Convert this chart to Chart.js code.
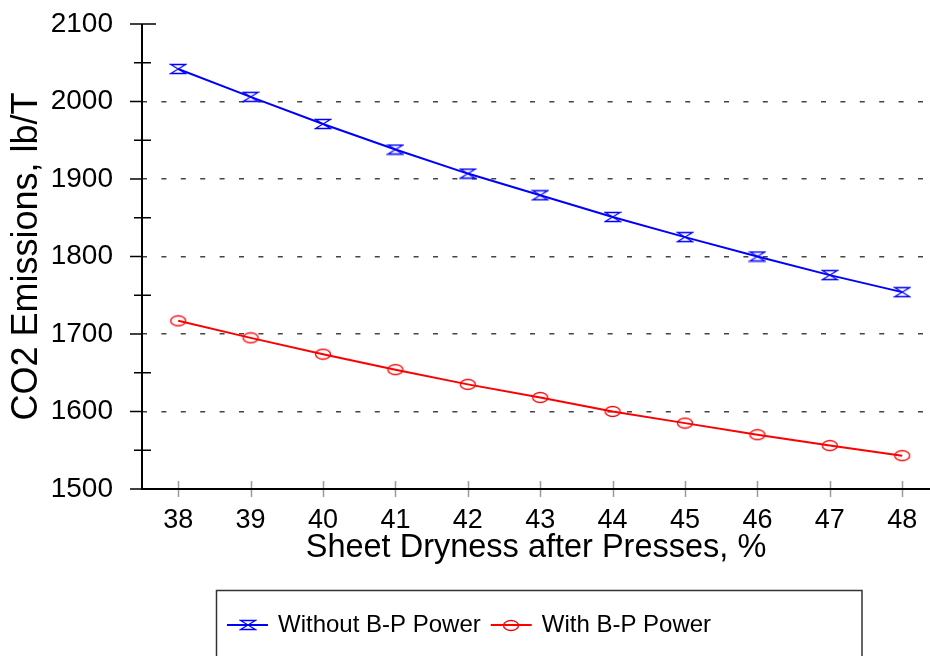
<!DOCTYPE html>
<html>
<head>
<meta charset="utf-8">
<script src="https://cdn.jsdelivr.net/npm/chart.js@4.4.1/dist/chart.umd.min.js"></script>
<style>
  html, body { margin: 0; padding: 0; background: #fff; }
  canvas { display: block; }
</style>
</head>
<body>
<canvas id="chart" width="930" height="656"></canvas>
<script>
// Sheet dryness after the presses (%)
const dryness = [38, 39, 40, 41, 42, 43, 44, 45, 46, 47, 48];
// CO2 emissions, lb/T
const withoutBP = [2042, 2006, 1971, 1938, 1907, 1879, 1851, 1825, 1800, 1776, 1754];
const withBP = [1717, 1695, 1674, 1654, 1635, 1618, 1600, 1585, 1570, 1556, 1543];
// y axis tick values
const yTicks = [1500, 1600, 1700, 1800, 1900, 2000, 2100];
const yMinorTicks = [1550, 1650, 1750, 1850, 1950, 2050];
const seriesNames = ['Without B-P Power', 'With B-P Power'];
const xTitle = 'Sheet Dryness after Presses, %';
const yTitle = 'CO2 Emissions, lb/T';

const FONT = '"Liberation Sans", Arial, Helvetica, sans-serif';
const BLUE = '#0000ff';
const RED = '#ff0000';

// Marker glyphs
function hourglassMarker(color) {
  const c = document.createElement('canvas');
  c.width = 18; c.height = 12;
  const g = c.getContext('2d');
  g.strokeStyle = color;
  g.lineWidth = 1.3;
  g.beginPath();
  g.moveTo(1.5, 1.5);
  g.lineTo(16.5, 1.5);
  g.lineTo(1.5, 10.5);
  g.lineTo(16.5, 10.5);
  g.closePath();
  g.stroke();
  return c;
}
function ellipseMarker(color) {
  const c = document.createElement('canvas');
  c.width = 18; c.height = 13;
  const g = c.getContext('2d');
  g.strokeStyle = color;
  g.lineWidth = 1.3;
  g.beginPath();
  g.ellipse(9, 6.5, 7.5, 5, 0, 0, Math.PI * 2);
  g.stroke();
  return c;
}
const blueMarker = hourglassMarker(BLUE);
const redMarker = ellipseMarker(RED);

// Axis lines and tick marks
const axesPlugin = {
  id: 'axesTicks',
  afterDatasetsDraw(chart) {
    const { ctx, chartArea } = chart;
    const xs = chart.scales.x, ys = chart.scales.y;
    ctx.save();
    // x tick marks (crossing the axis)
    ctx.strokeStyle = '#9a9a9a';
    ctx.lineWidth = 1.5;
    dryness.forEach(v => {
      const px = Math.round(xs.getPixelForValue(v)) + 0.5;
      ctx.beginPath();
      ctx.moveTo(px, chartArea.bottom - 8);
      ctx.lineTo(px, chartArea.bottom + 8);
      ctx.stroke();
    });
    // y major ticks (outside)
    ctx.strokeStyle = '#000';
    ctx.lineWidth = 1.5;
    yTicks.forEach(v => {
      const py = ys.getPixelForValue(v);
      ctx.beginPath();
      ctx.moveTo(chartArea.left - 12, py);
      ctx.lineTo(v === 2100 ? chartArea.left + 14 : chartArea.left, py);
      ctx.stroke();
    });
    // y minor ticks (crossing)
    yMinorTicks.forEach(v => {
      const py = ys.getPixelForValue(v);
      ctx.beginPath();
      ctx.moveTo(chartArea.left - 8, py);
      ctx.lineTo(chartArea.left + 9, py);
      ctx.stroke();
    });
    // axis lines
    ctx.lineWidth = 2;
    ctx.beginPath();
    ctx.moveTo(chartArea.left, chartArea.top);
    ctx.lineTo(chartArea.left, chartArea.bottom);
    ctx.moveTo(chartArea.left - 1, chartArea.bottom);
    ctx.lineTo(chartArea.right, chartArea.bottom);
    ctx.stroke();
    ctx.restore();
  }
};

// Boxed legend below the plot
const boxLegendPlugin = {
  id: 'boxLegend',
  afterDraw(chart) {
    const { ctx } = chart;
    ctx.save();
    ctx.strokeStyle = '#333';
    ctx.lineWidth = 1.5;
    ctx.strokeRect(216.5, 590.5, 645.5, 100);
    ctx.font = '24px ' + FONT;
    ctx.textBaseline = 'middle';
    ctx.fillStyle = '#000';
    const y = 625;
    let x = 227;
    chart.data.datasets.forEach(ds => {
      ctx.strokeStyle = ds.borderColor;
      ctx.lineWidth = 2;
      ctx.beginPath();
      ctx.moveTo(x, y);
      ctx.lineTo(x + 41, y);
      ctx.stroke();
      const m = ds.pointStyle;
      ctx.drawImage(m, Math.round(x + 20.5 - m.width / 2), Math.round(y - m.height / 2));
      x += 51;
      ctx.fillText(ds.label, x, y);
      x += ctx.measureText(ds.label).width + 10;
    });
    ctx.restore();
  }
};

Chart.defaults.font.family = FONT;
Chart.defaults.color = '#000';

new Chart(document.getElementById('chart'), {
  type: 'line',
  data: {
    datasets: [
      {
        label: seriesNames[0],
        data: dryness.map((d, i) => ({ x: d, y: withoutBP[i] })),
        borderColor: BLUE,
        backgroundColor: BLUE,
        borderWidth: 2,
        pointStyle: blueMarker,
        pointRadius: 8,
        tension: 0
      },
      {
        label: seriesNames[1],
        data: dryness.map((d, i) => ({ x: d, y: withBP[i] })),
        borderColor: RED,
        backgroundColor: RED,
        borderWidth: 2,
        pointStyle: redMarker,
        pointRadius: 8,
        tension: 0
      }
    ]
  },
  options: {
    responsive: false,
    animation: false,
    events: [],
    layout: { autoPadding: false, padding: { top: 24, left: 0, right: 0, bottom: 0 } },
    plugins: { legend: { display: false }, tooltip: { enabled: false } },
    scales: {
      x: {
        type: 'linear',
        min: 37.5,
        max: 48.384,
        afterBuildTicks: s => { s.ticks = dryness.map(v => ({ value: v })); },
        afterFit: s => { s.height = 167; s.paddingLeft = 0; s.paddingRight = 0; },
        grid: { display: false, drawTicks: false },
        border: { display: false },
        ticks: { font: { size: 27 }, padding: 15, autoSkip: false, maxRotation: 0, callback: v => String(v) },
        title: { display: true, text: xTitle, font: { size: 32.5 }, padding: { top: 0, bottom: 88 } }
      },
      y: {
        min: 1500,
        max: 2100,
        afterBuildTicks: s => { s.ticks = yTicks.map(v => ({ value: v })); },
        afterFit: s => { s.width = 142; s.paddingTop = 0; s.paddingBottom = 0; },
        grid: {
          drawTicks: false,
          lineWidth: 1.5,
          color: c => (c.tick && (c.tick.value === 1500 || c.tick.value === 2100)) ? 'rgba(0,0,0,0)' : '#444'
        },
        border: { display: false, dash: [5, 14.4] },
        ticks: { font: { size: 28 }, padding: 29, callback: v => String(v) },
        title: { display: true, text: yTitle, font: { size: 36 }, padding: { top: 5, bottom: 0 } }
      }
    }
  },
  plugins: [axesPlugin, boxLegendPlugin]
});
</script>
</body>
</html>
